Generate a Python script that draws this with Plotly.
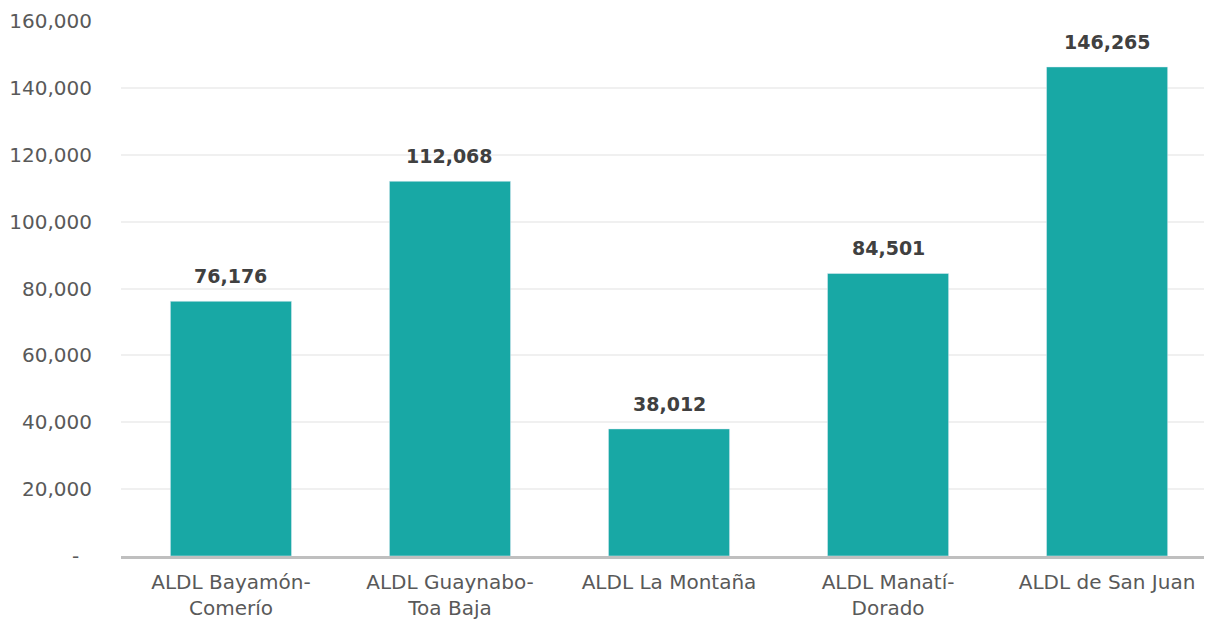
import plotly.graph_objects as go

categories = ["ALDL Bayamón-<br>Comerío", "ALDL Guaynabo-<br>Toa Baja", "ALDL La Montaña",
              "ALDL Manatí-<br>Dorado", "ALDL de San Juan"]
values = [76176, 112068, 38012, 84501, 146265]
tick_vals = [0, 20000, 40000, 60000, 80000, 100000, 120000, 140000, 160000]
tick_text = ["-\u00a0\u00a0", "20,000", "40,000", "60,000", "80,000", "100,000", "120,000", "140,000", "160,000"]

FONT = "DejaVu Sans"
BAR = "#18A8A5"

fig = go.Figure()
fig.add_trace(go.Bar(
    x=list(range(len(categories))), y=values, marker_color=BAR, width=0.553,
    hoverinfo="skip",
))

for i, v in enumerate(values):
    fig.add_annotation(x=i, y=v, text=f"<b>{v:,}</b>", showarrow=False,
                       yanchor="bottom", yshift=12,
                       font=dict(family=FONT, size=19, color="#404040"))

fig.update_layout(
    width=1212, height=621,
    margin=dict(l=113, r=8, t=13, b=73),
    paper_bgcolor="white", plot_bgcolor="white",
    showlegend=False,
    font=dict(family=FONT, size=16, color="#595959"),
    xaxis=dict(
        tickmode="array", tickvals=list(range(len(categories))), ticktext=categories,
        range=[-0.502, 4.479], showgrid=False, zeroline=False,
        showline=True, linecolor="#BFBFBF", linewidth=3,
        ticks="", ticklabelstandoff=6, automargin=False,
        tickfont=dict(family=FONT, size=20, color="#595959"),
    ),
    yaxis=dict(
        range=[0, 160000], tickmode="array", tickvals=tick_vals, ticktext=tick_text,
        showgrid=True, gridcolor="#F0F0F0", gridwidth=2, zeroline=False,
        showline=False, ticks="", ticklabelstandoff=28, automargin=False,
        tickfont=dict(family=FONT, size=20, color="#595959"),
    ),
)

fig.write_html("out.html")
